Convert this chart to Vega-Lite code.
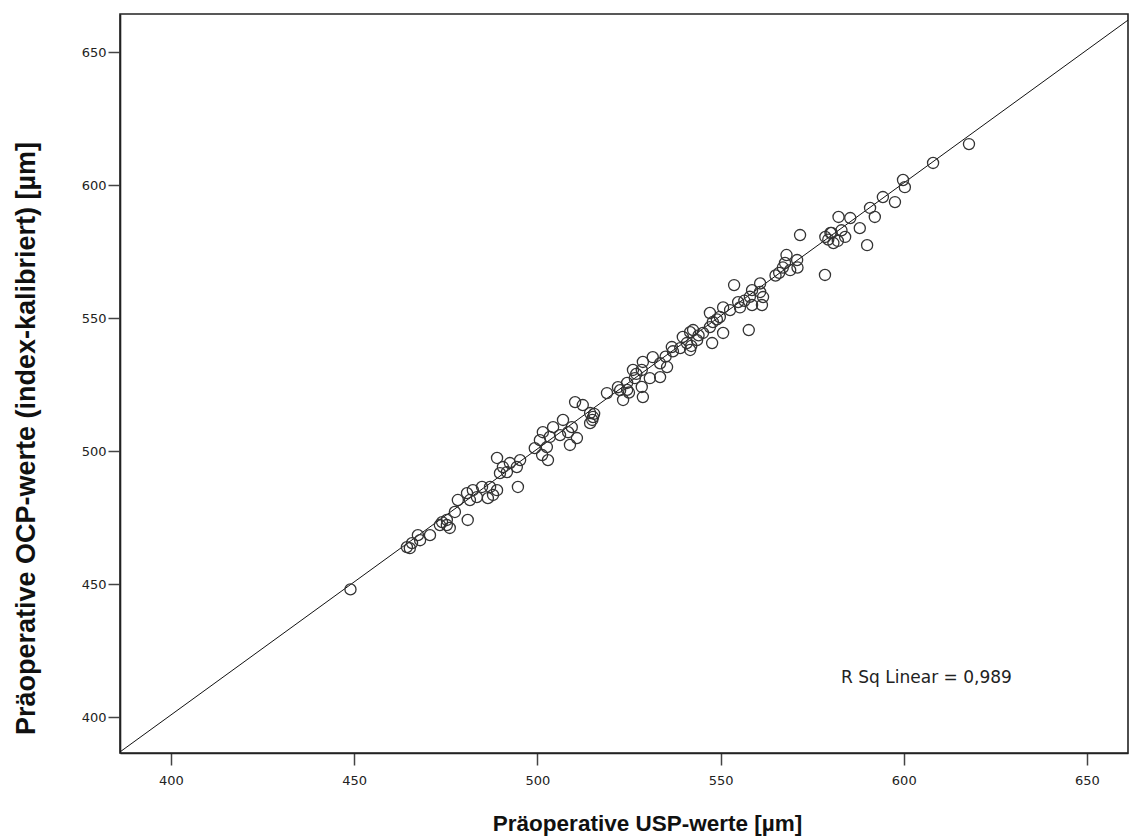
{
  "$schema": "https://vega.github.io/schema/vega-lite/v6.json",
  "autosize": {"type": "none"},
  "width": 1008,
  "height": 739,
  "padding": {"left": 120, "top": 14, "right": 2, "bottom": 86},
  "background": "white",
  "config": {
    "view": {"stroke": "#222", "strokeWidth": 1.6},
    "axis": {"grid": false}
  },
  "datasets": {
    "pts": [
      {"usp": 449, "ocp": 448}, {"usp": 464.4, "ocp": 463.9}, {"usp": 465.8, "ocp": 465.4}, {"usp": 465.2, "ocp": 463.5},
      {"usp": 467.4, "ocp": 468.4}, {"usp": 468, "ocp": 466.5}, {"usp": 470.7, "ocp": 468.4}, {"usp": 473.4, "ocp": 472.2},
      {"usp": 475.3, "ocp": 474.1}, {"usp": 476.1, "ocp": 471.1}, {"usp": 475.3, "ocp": 472.2}, {"usp": 474, "ocp": 473.3},
      {"usp": 477.5, "ocp": 477.1}, {"usp": 481, "ocp": 474.1}, {"usp": 478.3, "ocp": 481.6}, {"usp": 480.8, "ocp": 484.2},
      {"usp": 482.4, "ocp": 485.3}, {"usp": 481.6, "ocp": 481.6}, {"usp": 483.5, "ocp": 482.7}, {"usp": 484.9, "ocp": 486.5},
      {"usp": 486.5, "ocp": 482.3}, {"usp": 487.9, "ocp": 483.5}, {"usp": 489, "ocp": 485.3}, {"usp": 487.1, "ocp": 486.5},
      {"usp": 489, "ocp": 497.4}, {"usp": 490.6, "ocp": 494}, {"usp": 489.8, "ocp": 491.7}, {"usp": 491.7, "ocp": 492.1},
      {"usp": 495.3, "ocp": 496.6}, {"usp": 494.4, "ocp": 494}, {"usp": 492.5, "ocp": 495.5}, {"usp": 494.7, "ocp": 486.5},
      {"usp": 504.3, "ocp": 509}, {"usp": 503.4, "ocp": 505.3}, {"usp": 501.5, "ocp": 507.1}, {"usp": 500.7, "ocp": 504.1},
      {"usp": 502.6, "ocp": 501.5}, {"usp": 502.9, "ocp": 496.6}, {"usp": 501.3, "ocp": 498.5}, {"usp": 499.3, "ocp": 501.1},
      {"usp": 507, "ocp": 511.7}, {"usp": 509.4, "ocp": 509}, {"usp": 510.8, "ocp": 504.9}, {"usp": 508.9, "ocp": 502.3},
      {"usp": 508.4, "ocp": 507.1}, {"usp": 506.2, "ocp": 506}, {"usp": 510.3, "ocp": 518.4}, {"usp": 512.4, "ocp": 517.3},
      {"usp": 514.4, "ocp": 514.3}, {"usp": 515.2, "ocp": 512.8}, {"usp": 515, "ocp": 511.7}, {"usp": 514.4, "ocp": 510.5},
      {"usp": 515.5, "ocp": 514}, {"usp": 519, "ocp": 521.8}, {"usp": 522, "ocp": 524}, {"usp": 524.5, "ocp": 523},
      {"usp": 523.4, "ocp": 519.2}, {"usp": 525, "ocp": 522}, {"usp": 527, "ocp": 529}, {"usp": 531.5, "ocp": 535.3},
      {"usp": 533.5, "ocp": 533}, {"usp": 528.8, "ocp": 533.5}, {"usp": 528.5, "ocp": 530.5}, {"usp": 533.5, "ocp": 527.8},
      {"usp": 530.7, "ocp": 527.4}, {"usp": 535.4, "ocp": 531.6}, {"usp": 526.1, "ocp": 530.5}, {"usp": 526.6, "ocp": 527.4},
      {"usp": 524.5, "ocp": 525.6}, {"usp": 522.6, "ocp": 522.9}, {"usp": 528.8, "ocp": 520.3}, {"usp": 528.5, "ocp": 524.1},
      {"usp": 537, "ocp": 537.5}, {"usp": 535, "ocp": 535.5}, {"usp": 541.7, "ocp": 544.7}, {"usp": 543.6, "ocp": 541.7},
      {"usp": 540.8, "ocp": 540.6}, {"usp": 541.7, "ocp": 538}, {"usp": 539, "ocp": 538.7}, {"usp": 536.7, "ocp": 539.1},
      {"usp": 539.7, "ocp": 542.9}, {"usp": 542.5, "ocp": 545.5}, {"usp": 542, "ocp": 539.5}, {"usp": 550.7, "ocp": 554},
      {"usp": 552.6, "ocp": 553}, {"usp": 549.8, "ocp": 550.4}, {"usp": 547.9, "ocp": 548.5}, {"usp": 547.1, "ocp": 551.9},
      {"usp": 550.7, "ocp": 544.4}, {"usp": 547.7, "ocp": 540.6}, {"usp": 547.1, "ocp": 546.6}, {"usp": 545.2, "ocp": 544.4},
      {"usp": 555.3, "ocp": 554}, {"usp": 553.7, "ocp": 562.4}, {"usp": 554.8, "ocp": 556}, {"usp": 557.7, "ocp": 545.5},
      {"usp": 560.8, "ocp": 563}, {"usp": 558.6, "ocp": 560.5}, {"usp": 560.8, "ocp": 559.8}, {"usp": 561.3, "ocp": 554.9},
      {"usp": 558.6, "ocp": 554.9}, {"usp": 561.6, "ocp": 557.9}, {"usp": 558, "ocp": 558}, {"usp": 556.5, "ocp": 556.5},
      {"usp": 544, "ocp": 543.5}, {"usp": 549, "ocp": 549.5}, {"usp": 568, "ocp": 573.7}, {"usp": 570.9, "ocp": 571.8},
      {"usp": 567.6, "ocp": 570.7}, {"usp": 569, "ocp": 568}, {"usp": 566, "ocp": 567}, {"usp": 565, "ocp": 566},
      {"usp": 567, "ocp": 569}, {"usp": 571.7, "ocp": 581.2}, {"usp": 571, "ocp": 569}, {"usp": 578.5, "ocp": 566.2},
      {"usp": 580, "ocp": 582}, {"usp": 578.6, "ocp": 580.5}, {"usp": 580.3, "ocp": 582}, {"usp": 583, "ocp": 583},
      {"usp": 580.8, "ocp": 578.2}, {"usp": 579.4, "ocp": 579.5}, {"usp": 582, "ocp": 579}, {"usp": 584, "ocp": 580.5},
      {"usp": 582.2, "ocp": 588}, {"usp": 585.4, "ocp": 587.6}, {"usp": 588, "ocp": 583.8}, {"usp": 590, "ocp": 577.4},
      {"usp": 590.8, "ocp": 591.4}, {"usp": 592.1, "ocp": 588}, {"usp": 594.3, "ocp": 595.5}, {"usp": 597.6, "ocp": 593.6},
      {"usp": 599.8, "ocp": 601.9}, {"usp": 600.3, "ocp": 599.2}, {"usp": 608, "ocp": 608.3}, {"usp": 617.8, "ocp": 615.4}
    ],
    "fit": [
      {"usp": 386.1, "ocp": 386.9},
      {"usp": 661.2, "ocp": 662}
    ],
    "note": [
      {"usp": 582.9, "ocp": 414.7, "label": "R Sq Linear = 0,989"}
    ]
  },
  "encoding": {
    "x": {
      "field": "usp", "type": "quantitative",
      "scale": {"domain": [386.1, 661.2], "nice": false, "zero": false},
      "axis": {
        "values": [400, 450, 500, 550, 600, 650],
        "title": "Präoperative USP-werte [µm]",
        "titleFont": "Liberation Sans", "titleFontSize": 22.5, "titleFontWeight": "bold", "titleColor": "#111",
        "titleX": 527, "titleY": 70, "titleBaseline": "middle", "titleAlign": "center",
        "labelFont": "DejaVu Sans", "labelFontSize": 13, "labelColor": "#222", "labelPadding": 9,
        "tickSize": 12, "tickColor": "#444", "tickWidth": 1.5,
        "domainColor": "#222", "domainWidth": 1.6
      }
    },
    "y": {
      "field": "ocp", "type": "quantitative",
      "scale": {"domain": [386.5, 664.3], "nice": false, "zero": false},
      "axis": {
        "values": [400, 450, 500, 550, 600, 650],
        "title": "Präoperative OCP-werte (index-kalibriert) [µm]",
        "titleFont": "Liberation Sans", "titleFontSize": 27, "titleFontWeight": "bold", "titleColor": "#111",
        "titleX": -94, "titleY": 424, "titleAngle": 270, "titleBaseline": "middle", "titleAlign": "center",
        "labelFont": "DejaVu Sans", "labelFontSize": 13, "labelColor": "#222", "labelPadding": 2,
        "tickSize": 12, "tickColor": "#444", "tickWidth": 1.5,
        "domainColor": "#222", "domainWidth": 1.6
      }
    }
  },
  "layer": [
    {
      "data": {"name": "fit"},
      "mark": {"type": "line", "color": "#111", "strokeWidth": 1, "clip": true}
    },
    {
      "data": {"name": "pts"},
      "mark": {"type": "point", "shape": "circle", "filled": false, "size": 123, "stroke": "#333", "strokeWidth": 1.3, "opacity": 1}
    },
    {
      "data": {"name": "note"},
      "mark": {"type": "text", "align": "left", "baseline": "middle", "font": "DejaVu Sans", "fontSize": 17, "color": "#222"},
      "encoding": {"text": {"field": "label"}}
    }
  ]
}
